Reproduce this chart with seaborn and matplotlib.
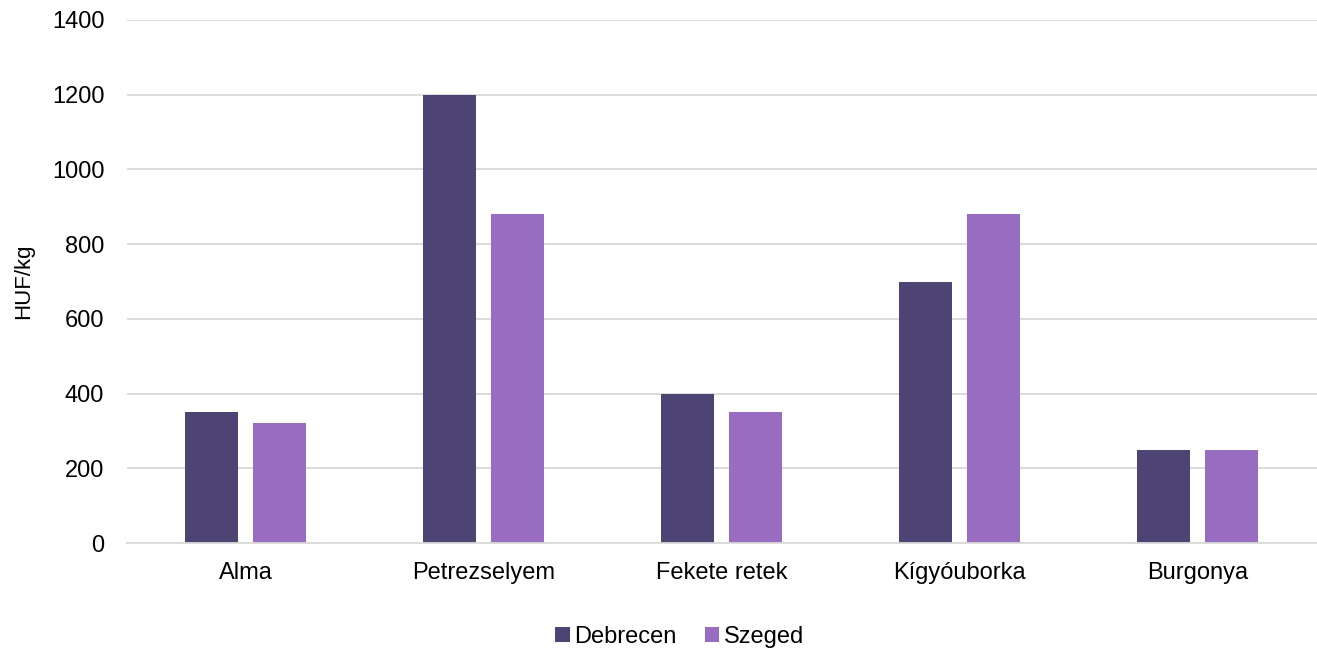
import pandas as pd
import matplotlib
matplotlib.use("Agg")
import matplotlib.pyplot as plt
import seaborn as sns

categories = ["Alma", "Petrezselyem", "Fekete retek", "Kígyóuborka", "Burgonya"]
debrecen = [350, 1200, 400, 700, 250]
szeged = [320, 880, 350, 880, 250]
series = ["Debrecen", "Szeged"]
yticks = [0, 200, 400, 600, 800, 1000, 1200, 1400]

df = pd.DataFrame({
    "termek": categories * 2,
    "varos": [series[0]] * len(categories) + [series[1]] * len(categories),
    "ar": debrecen + szeged,
})

sns.set_style("white")
plt.rcParams["font.family"] = ["Liberation Sans", "DejaVu Sans"]
plt.rcParams["text.color"] = "black"
plt.rcParams["axes.labelcolor"] = "black"

fig = plt.figure(figsize=(13.17, 6.49), dpi=100)
ax = fig.add_axes([126.5 / 1317, 0.1633, 1190 / 1317, 0.8059])

sns.barplot(data=df, x="termek", y="ar", hue="varos",
            palette=["#4e4473", "#976cc1"], width=0.571, gap=0.22,
            saturation=1, linewidth=0, ax=ax, legend=True)

ax.set_ylim(0, 1400)
ax.set_yticks(yticks)
ax.set_xlim(-0.5, len(categories) - 0.5)
ax.yaxis.grid(True, color="#d9d9d9", linewidth=1.3)
ax.set_axisbelow(True)
for s in ["top", "right", "left"]:
    ax.spines[s].set_visible(False)
ax.spines["bottom"].set_color("#d9d9d9")
ax.spines["bottom"].set_linewidth(1.3)
ax.tick_params(axis="both", length=0, labelsize=17, colors="#000000")
ax.tick_params(axis="x", pad=14)
ax.tick_params(axis="y", pad=16)
ax.set_xlabel("")
ax.set_ylabel("HUF/kg", fontsize=16, labelpad=13)

ax.legend(loc="center", bbox_to_anchor=(0.465, -0.18), ncol=2, frameon=False,
          fontsize=17, handlelength=0.6, handleheight=0.6,
          handletextpad=0.2, columnspacing=1.2)

fig.savefig("out.png", dpi=100)
